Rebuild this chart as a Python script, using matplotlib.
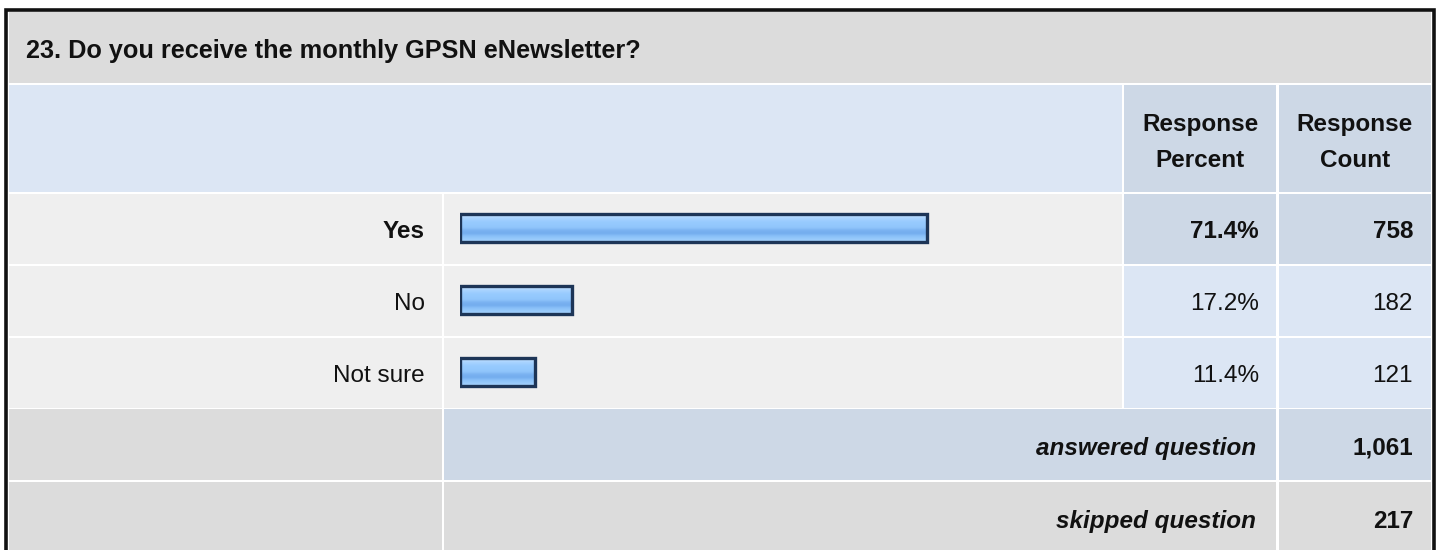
import matplotlib
matplotlib.use("Agg")
import matplotlib.pyplot as plt
from matplotlib.patches import Rectangle
from matplotlib.colors import LinearSegmentedColormap
import numpy as np

# ---- data ----
title = "23. Do you receive the monthly GPSN eNewsletter?"
col_headers = [["Response", "Percent"], ["Response", "Count"]]
categories = ["Yes", "No", "Not sure"]
percents = [71.4, 17.2, 11.4]
counts = [758, 182, 121]
answered_label = "answered question"
answered = 1061
skipped_label = "skipped question"
skipped = 217

# ---- style ----
FONT = ["Liberation Sans", "Arial", "DejaVu Sans"]
FS = 17.5
C_TITLE = "#dcdcdc"
C_HEAD = "#dce6f4"
C_HEAD2 = "#cdd8e6"
C_ROW = "#efefef"
C_CELL = "#dce6f4"
C_HI = "#cdd8e6"
C_GRAY = "#dcdcdc"
TXT = "#111111"

W, H = 1440, 550
fig = plt.figure(figsize=(W / 100, H / 100), dpi=100)
fig.patch.set_facecolor("white")
bg = fig.add_axes([0, 0, 1, 1])
bg.set_xlim(0, W)
bg.set_ylim(H, 0)
bg.axis("off")


def cell(x0, x1, y0, y1, color):
    bg.add_patch(Rectangle((x0, y0), x1 - x0, y1 - y0, facecolor=color,
                           edgecolor="none", zorder=1))


def txt(x, y, s, ha="right", bold=False, italic=False, fs=FS):
    bg.text(x, y, s, fontsize=fs, fontweight="bold" if bold else "normal",
            style="italic" if italic else "normal", family=FONT,
            ha=ha, va="baseline", color=TXT, zorder=5)


# column edges
LX0, LX1 = 9, 442
BX0, BX1 = 444, 1122
PX0, PX1 = 1124, 1276
CX0, CX1 = 1279, 1431

# title row
cell(LX0, CX1, 12, 83, C_TITLE)
txt(26, 58, title, ha="left", bold=True, fs=18.2)

# header row
cell(LX0, BX1, 85, 192, C_HEAD)
cell(PX0, PX1, 85, 192, C_HEAD2)
cell(CX0, CX1, 85, 192, C_HEAD2)
for (x0, x1), lines in zip([(PX0, PX1), (CX0, CX1)], col_headers):
    xc = (x0 + x1) / 2
    txt(xc, 131.5, lines[0], ha="center", bold=True)
    txt(xc, 167, lines[1], ha="center", bold=True)

# data rows
row_edges = [(194, 264), (266, 336), (338, 408)]
imax = int(np.argmax(percents))
for i, (cat, p, c) in enumerate(zip(categories, percents, counts)):
    y0, y1 = row_edges[i]
    yb = (y0 + y1) / 2 + 8.5
    hi = i == imax
    cell(LX0, LX1, y0, y1, C_ROW)
    cell(BX0, BX1, y0, y1, C_ROW)
    cell(PX0, PX1, y0, y1, C_HI if hi else C_CELL)
    cell(CX0, CX1, y0, y1, C_HI if hi else C_CELL)
    txt(LX1 - 17, yb, cat, bold=hi)
    txt(PX1 - 17, yb, f"{p:.1f}%", bold=hi)
    txt(CX1 - 18, yb, f"{c:,}", bold=hi)

# answered row
cell(LX0, LX1, 409, 480, C_GRAY)
cell(BX0, PX1, 409, 480, C_HI)
cell(CX0, CX1, 409, 480, C_HI)
txt(PX1 - 20, 455, answered_label, bold=True, italic=True)
txt(CX1 - 18, 455, f"{answered:,}", bold=True)

# skipped row
cell(LX0, LX1, 482, 552, C_GRAY)
cell(BX0, PX1, 482, 552, C_GRAY)
cell(CX0, CX1, 482, 552, C_GRAY)
txt(PX1 - 20, 528, skipped_label, bold=True, italic=True)
txt(CX1 - 18, 528, f"{skipped:,}", bold=True)

# outer frame
bg.plot([5.5, 5.5, 1433.5, 1433.5], [H + 5, 10, 10, H + 5], color="#111111",
        lw=2.6, solid_joinstyle="miter", zorder=6)

# ---- bars ----
bar_left, bar_width_px = 460, 654
ay0, ay1 = 192, 408
ax = fig.add_axes([bar_left / W, 1 - ay1 / H, bar_width_px / W, (ay1 - ay0) / H])
ax.axis("off")
ax.patch.set_alpha(0)

ypos = np.arange(len(categories))
bars = ax.barh(ypos, percents, height=0.4, facecolor="none",
               edgecolor="#1d3557", linewidth=2.4, zorder=3)

grad_colors = ["#d2e8ff", "#b9dcff", "#a4d1ff", "#98cbfe", "#94c8fd",
               "#90c5fb", "#7ab2f1", "#74adee", "#89c0f8", "#98cafb", "#a6d2fc"]
cmap = LinearSegmentedColormap.from_list("bargrad", grad_colors)
grad = np.linspace(0, 1, 64).reshape(-1, 1)
for b in bars:
    x, y, w, h = b.get_x(), b.get_y(), b.get_width(), b.get_height()
    im = ax.imshow(grad, cmap=cmap, aspect="auto", extent=(x, x + w, y + h, y),
                   interpolation="bilinear", zorder=2)
    im.set_clip_path(b)
ax.set_xlim(0, 100)
ax.set_ylim(len(categories) - 0.5, -0.5)

fig.savefig("out.png", dpi=100, facecolor="white")
